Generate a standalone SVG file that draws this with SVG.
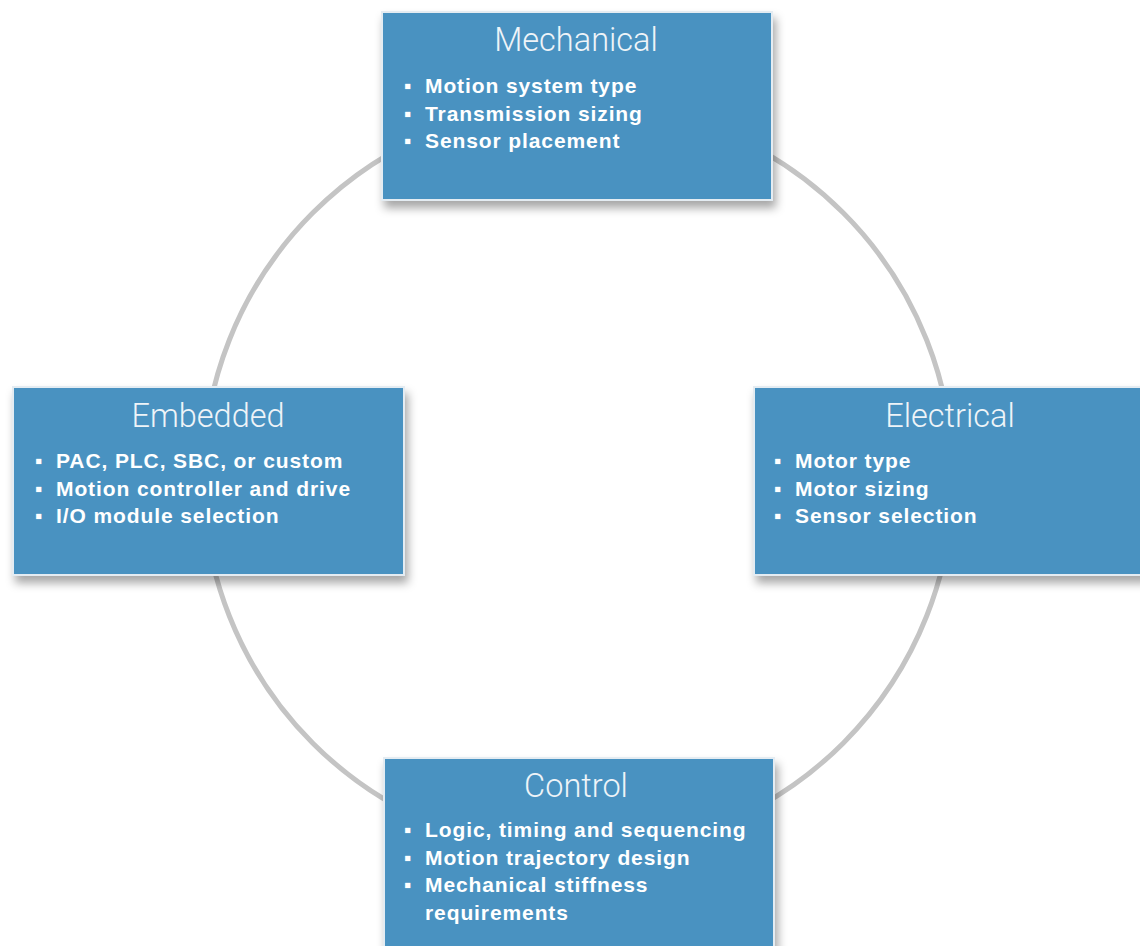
<svg xmlns="http://www.w3.org/2000/svg" width="1140" height="946" viewBox="0 0 1140 946">
<defs>
<filter id="sh" x="-10%" y="-10%" width="125%" height="130%">
<feDropShadow dx="3" dy="7" stdDeviation="5" flood-color="#000" flood-opacity="0.35"/>
</filter>
<style>
.box{fill:#4a92c1;stroke:#e4ecf2;stroke-width:2;filter:url(#sh)}
.ttl{font-family:Roboto,"Liberation Sans",sans-serif;font-weight:300;font-size:32.5px;fill:#eef4f8;text-anchor:middle}
.itm{font-family:"Liberation Sans",Arial,sans-serif;font-weight:bold;font-size:21px;fill:#ffffff;letter-spacing:0.9px}
.ring{fill:none;stroke:#c4c4c4;stroke-width:5}
</style>
</defs>
<rect width="1140" height="946" fill="#ffffff"/>
<g id="connectors">
<circle class="ring" cx="578" cy="478" r="375"/>
</g>
<g id="mechanical">
<rect class="box" x="382" y="12" width="390" height="188"/>
<text class="ttl" x="576" y="51">Mechanical</text>
<text class="itm" x="404" y="93">▪</text><text class="itm" x="425" y="93">Motion system type</text>
<text class="itm" x="404" y="121">▪</text><text class="itm" x="425" y="121">Transmission sizing</text>
<text class="itm" x="404" y="148">▪</text><text class="itm" x="425" y="148">Sensor placement</text>
</g>
<g id="embedded">
<rect class="box" x="13" y="387" width="391" height="188"/>
<text class="ttl" x="208" y="427">Embedded</text>
<text class="itm" x="35" y="468">▪</text><text class="itm" x="56" y="468">PAC, PLC, SBC, or custom</text>
<text class="itm" x="35" y="496">▪</text><text class="itm" x="56" y="496">Motion controller and drive</text>
<text class="itm" x="35" y="523">▪</text><text class="itm" x="56" y="523">I/O module selection</text>
</g>
<g id="electrical">
<rect class="box" x="754" y="387" width="392" height="188"/>
<text class="ttl" x="950" y="427">Electrical</text>
<text class="itm" x="774" y="468">▪</text><text class="itm" x="795" y="468">Motor type</text>
<text class="itm" x="774" y="496">▪</text><text class="itm" x="795" y="496">Motor sizing</text>
<text class="itm" x="774" y="523">▪</text><text class="itm" x="795" y="523">Sensor selection</text>
</g>
<g id="control">
<rect class="box" x="384" y="758" width="390" height="200"/>
<text class="ttl" x="576" y="797">Control</text>
<text class="itm" x="404" y="837">▪</text><text class="itm" x="425" y="837">Logic, timing and sequencing</text>
<text class="itm" x="404" y="865">▪</text><text class="itm" x="425" y="865">Motion trajectory design</text>
<text class="itm" x="404" y="892">▪</text><text class="itm" x="425" y="892">Mechanical stiffness</text>
<text class="itm" x="425" y="920">requirements</text>
</g>
</svg>
